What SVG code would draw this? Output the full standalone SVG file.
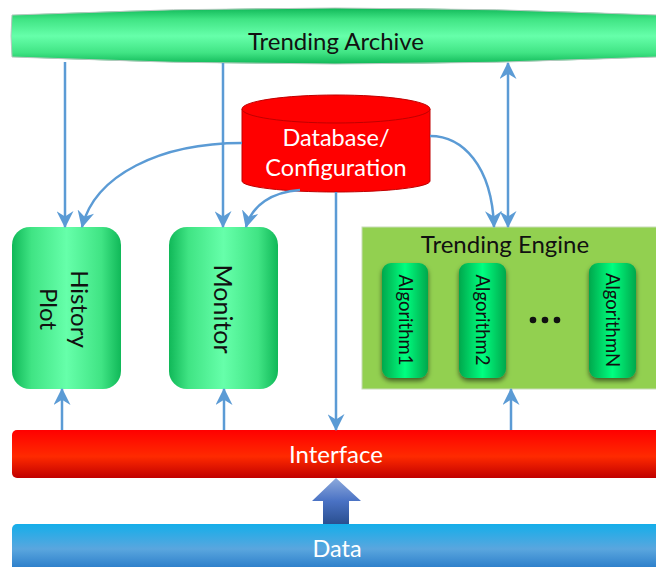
<svg xmlns="http://www.w3.org/2000/svg" width="656" height="567" viewBox="0 0 656 567">
<defs>
<linearGradient id="gH" x1="0" y1="0" x2="1" y2="0">
<stop offset="0" stop-color="#10b858"/><stop offset="0.18" stop-color="#40e484"/><stop offset="0.5" stop-color="#66ffaa"/><stop offset="0.82" stop-color="#40e484"/><stop offset="1" stop-color="#10b858"/>
</linearGradient>
<linearGradient id="gV" x1="0" y1="0" x2="0" y2="1">
<stop offset="0" stop-color="#10b858"/><stop offset="0.2" stop-color="#40e484"/><stop offset="0.5" stop-color="#66ffaa"/><stop offset="0.8" stop-color="#40e484"/><stop offset="1" stop-color="#10b858"/>
</linearGradient>
<linearGradient id="gAlg" x1="0" y1="0" x2="1" y2="0">
<stop offset="0" stop-color="#00a84c"/><stop offset="0.5" stop-color="#00ff80"/><stop offset="1" stop-color="#00a84c"/>
</linearGradient>
<linearGradient id="gRed" x1="0" y1="0" x2="0" y2="1">
<stop offset="0" stop-color="#ff0000"/><stop offset="0.55" stop-color="#ff2a00"/><stop offset="1" stop-color="#c00000"/>
</linearGradient>
<linearGradient id="gBlue" x1="0" y1="0" x2="0" y2="1">
<stop offset="0" stop-color="#14aeea"/><stop offset="0.5" stop-color="#5aa6de"/><stop offset="1" stop-color="#1e72c4"/>
</linearGradient>
<linearGradient id="gBlock" x1="0" y1="0" x2="0" y2="1">
<stop offset="0" stop-color="#8eaadc"/><stop offset="0.5" stop-color="#4a72c4"/><stop offset="1" stop-color="#2a4f90"/>
</linearGradient>
<filter id="sh" x="-30%" y="-20%" width="160%" height="140%">
<feDropShadow dx="0" dy="3" stdDeviation="2.5" flood-color="#000" flood-opacity="0.55"/>
</filter>
<marker id="ah" viewBox="0 0 16 16" refX="15" refY="8" markerWidth="17" markerHeight="17" markerUnits="userSpaceOnUse" orient="auto-start-reverse">
<path d="M0,0 L16,8 L0,16 L5,8 Z" fill="#5b9bd5"/>
</marker>
</defs>
<style>
.t{font-family:Lato,"Liberation Sans",sans-serif;text-anchor:middle;}
.dk{fill:#111;}
.wh{fill:#fff;}
.c{fill:none;stroke:#5b9bd5;stroke-width:2.5;}
</style>

<g id="archive">
<path d="M12,15 Q335,1 658,15 L658,57 Q335,71 12,57 Q10,36 12,15 Z" fill="url(#gV)" stroke="#b8c8c0" stroke-width="1"/>
<text class="t dk" x="336" y="50" font-size="24">Trending Archive</text>
</g>

<g id="database">
<path d="M242,109 L242,181 A94,11 0 0 0 430,181 L430,109 Z" fill="#ff0000" stroke="#c00000" stroke-width="1"/>
<ellipse cx="336" cy="109" rx="94" ry="14" fill="#ff0000" stroke="#c00000" stroke-width="1"/>
<text class="t wh" x="336" y="146" font-size="23.5">Database/</text>
<text class="t wh" x="336" y="176" font-size="23.5">Configuration</text>
</g>

<g id="history">
<rect x="12" y="227" width="109" height="162" rx="18" fill="url(#gH)"/>
<text class="t dk" font-size="24" transform="translate(66,309) rotate(90)"><tspan x="0" y="-5">History</tspan><tspan x="0" y="26">Plot</tspan></text>
</g>

<g id="monitor">
<rect x="169" y="227" width="109" height="162" rx="18" fill="url(#gH)"/>
<text class="t dk" font-size="25" transform="translate(223,309) rotate(90)" y="9" x="0">Monitor</text>
</g>

<g id="engine">
<rect x="362" y="227" width="300" height="162" fill="#92d050" stroke="#c8dcb8" stroke-width="1"/>
<text class="t dk" x="505" y="253" font-size="24">Trending Engine</text>
<g id="alg1">
<rect x="382" y="263" width="46" height="115" rx="9" fill="url(#gAlg)" filter="url(#sh)"/>
<text class="t dk" font-size="18.5" transform="translate(405,320) rotate(90)" x="0" y="6">Algorithm1</text>
</g>
<g id="alg2">
<rect x="459" y="263" width="47" height="115" rx="9" fill="url(#gAlg)" filter="url(#sh)"/>
<text class="t dk" font-size="18.5" transform="translate(482,320) rotate(90)" x="0" y="6">Algorithm2</text>
</g>
<g id="dots">
<circle cx="533" cy="320" r="3.3" fill="#111"/><circle cx="545" cy="320" r="3.3" fill="#111"/><circle cx="557" cy="320" r="3.3" fill="#111"/>
</g>
<g id="algN">
<rect x="589" y="263" width="47" height="115" rx="9" fill="url(#gAlg)" filter="url(#sh)"/>
<text class="t dk" font-size="18.5" transform="translate(612,320) rotate(90)" x="0" y="6">AlgorithmN</text>
</g>
</g>

<g id="interface">
<rect x="12" y="430" width="650" height="48" rx="5" fill="url(#gRed)"/>
<text class="t wh" x="336" y="463" font-size="24">Interface</text>
</g>

<g id="data">
<rect x="12" y="524" width="650" height="50" rx="5" fill="url(#gBlue)"/>
<text class="t wh" x="337" y="557" font-size="23.5">Data</text>
</g>

<g id="connectors">
<line class="c" x1="65" y1="62" x2="65" y2="227" marker-end="url(#ah)"/>
<line class="c" x1="223" y1="63" x2="223" y2="227" marker-end="url(#ah)"/>
<line class="c" x1="508" y1="63" x2="508" y2="227" marker-start="url(#ah)" marker-end="url(#ah)"/>
<path class="c" d="M242,143 C160,143 95,175 82,227" marker-end="url(#ah)"/>
<path class="c" d="M300,190 C272,192 252,205 246,227" marker-end="url(#ah)"/>
<path class="c" d="M430,136 C462,136 492,165 494,227" marker-end="url(#ah)"/>
<line class="c" x1="336" y1="192" x2="336" y2="430" marker-end="url(#ah)"/>
<line class="c" x1="62" y1="430" x2="62" y2="389" marker-end="url(#ah)"/>
<line class="c" x1="224" y1="430" x2="224" y2="389" marker-end="url(#ah)"/>
<line class="c" x1="511" y1="430" x2="511" y2="389" marker-end="url(#ah)"/>
<path d="M336,478 L361,501 L349,501 L349,524 L323,524 L323,501 L312,501 Z" fill="url(#gBlock)"/>
</g>
</svg>
